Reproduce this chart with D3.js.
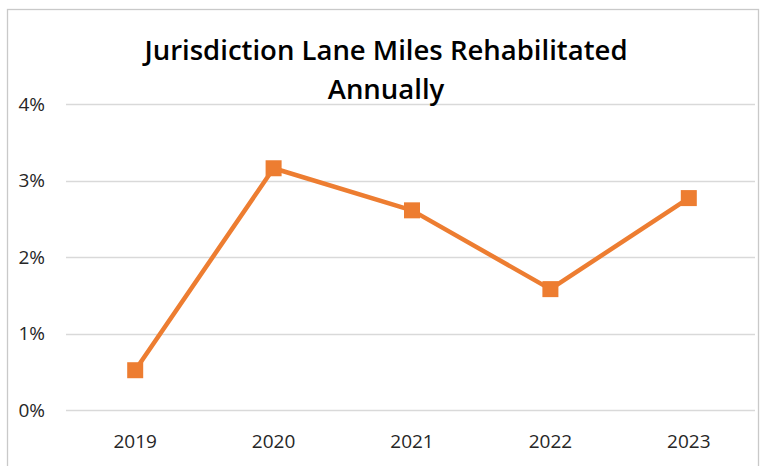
<!DOCTYPE html>
<html>
<head>
<meta charset="utf-8">
<script src="https://cdn.jsdelivr.net/npm/d3@7"></script>
<style>
  body { margin: 0; background: #fff; }
  svg text { font-family: "Open Sans", "Noto Sans", sans-serif; fill: #262626; }
</style>
</head>
<body>
<div id="chart"></div>
<script>
// data
const years = ["2019", "2020", "2021", "2022", "2023"];
const rehabPct = [0.52, 3.16, 2.61, 1.58, 2.77];
const yTicks = [0, 1, 2, 3, 4];
const titleLines = ["Jurisdiction Lane Miles Rehabilitated", "Annually"];

var W = 762, H = 466;
var svg = d3.select("#chart").append("svg")
  .attr("width", W)
  .attr("height", H);

// chart frame
svg.append("rect")
  .attr("x", 7.5).attr("y", 9.5)
  .attr("width", 751).attr("height", 470)
  .attr("fill", "#fff")
  .attr("stroke", "#c9c9c9")
  .attr("stroke-width", 1.3);

var x = d3.scalePoint().domain(years).range([66, 758]).padding(0.5);
var y = d3.scaleLinear().domain([0, 4]).range([410, 104]);

// gridlines
svg.append("g")
  .selectAll("line")
  .data(yTicks)
  .enter()
  .append("line")
  .attr("x1", 66).attr("x2", 755)
  .attr("y1", d => Math.round(y(d)) + 0.5)
  .attr("y2", d => Math.round(y(d)) + 0.5)
  .attr("stroke", "#d9d9d9")
  .attr("stroke-width", 1.3);

// y labels
svg.append("g")
  .selectAll("text")
  .data(yTicks)
  .enter()
  .append("text")
  .attr("x", 45)
  .attr("y", d => y(d))
  .attr("dy", "0.35em")
  .attr("text-anchor", "end")
  .style("font-size", "19px")
  .text(d => d + "%");

// x labels
svg.append("g")
  .selectAll("text")
  .data(years)
  .enter()
  .append("text")
  .attr("x", d => x(d))
  .attr("y", 441)
  .attr("dy", "0.35em")
  .attr("text-anchor", "middle")
  .style("font-size", "19px")
  .text(d => d);

// title
svg.append("g")
  .selectAll("text")
  .data(titleLines)
  .enter()
  .append("text")
  .attr("x", 386)
  .attr("y", (d, i) => 60 + i * 39)
  .attr("text-anchor", "middle")
  .style("font-size", "27.5px")
  .style("font-weight", "600")
  .style("fill", "#000")
  .text(d => d);

var pts = years.map((d, i) => [x(d), y(rehabPct[i])]);

svg.append("path")
  .datum(pts)
  .attr("d", d3.line())
  .attr("fill", "none")
  .attr("stroke", "#ED7D31")
  .attr("stroke-width", 4.5)
  .attr("stroke-linejoin", "round");

var m = 16;
svg.append("g")
  .selectAll("rect")
  .data(pts)
  .enter()
  .append("rect")
  .attr("x", d => d[0] - m / 2)
  .attr("y", d => d[1] - m / 2)
  .attr("width", m)
  .attr("height", m)
  .attr("fill", "#ED7D31");
</script>
</body>
</html>
